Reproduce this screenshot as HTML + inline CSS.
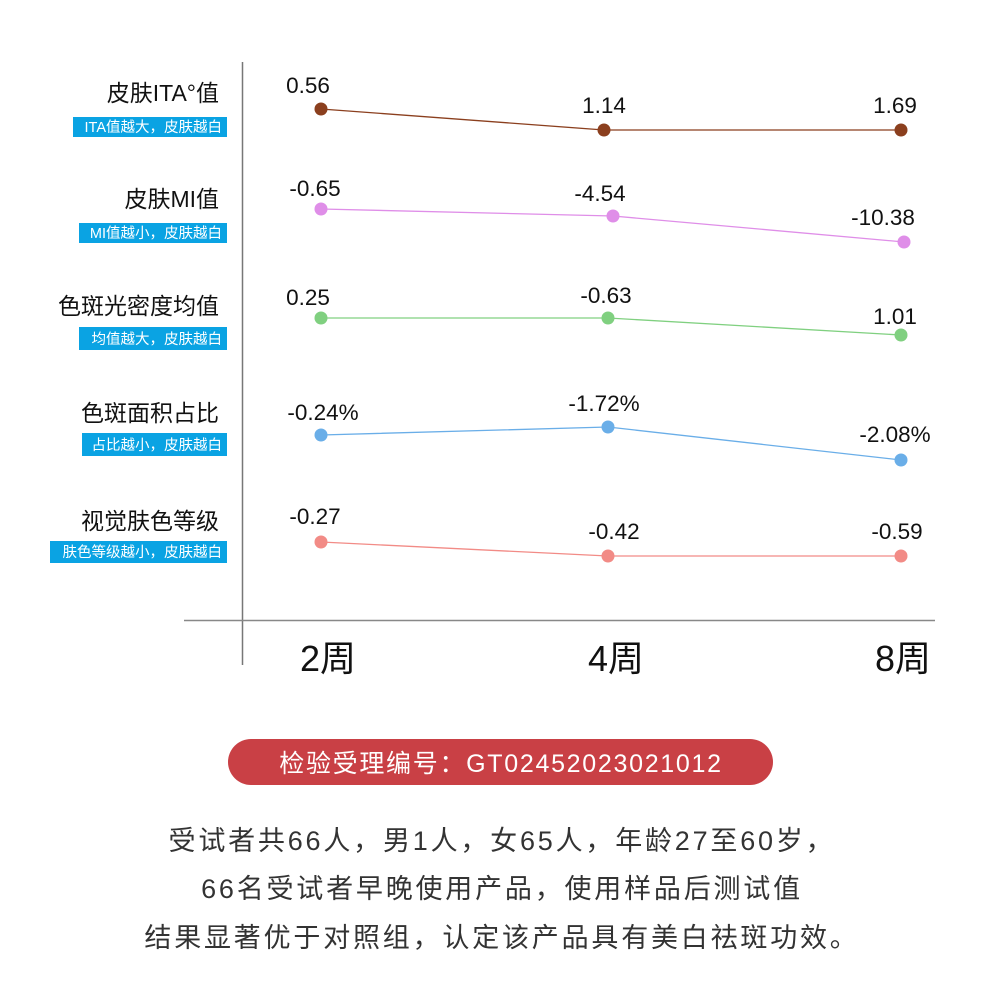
<!DOCTYPE html>
<html><head><meta charset="utf-8"><style>
html,body{margin:0;padding:0;background:#fff;width:1000px;height:1000px;overflow:hidden}
text{font-family:"Liberation Sans","Noto Sans CJK SC",sans-serif}
</style></head><body>
<svg width="1000" height="1000" viewBox="0 0 1000 1000" xmlns="http://www.w3.org/2000/svg">
<line x1="242.5" y1="62" x2="242.5" y2="665" stroke="#777" stroke-width="1.5"/>
<line x1="184" y1="620.5" x2="935" y2="620.5" stroke="#888" stroke-width="1.5"/>

<g font-size="23" fill="#111" text-anchor="end">
<text x="219" y="101">皮肤ITA°值</text>
<text x="219" y="207">皮肤MI值</text>
<text x="219" y="314">色斑光密度均值</text>
<text x="219" y="421">色斑面积占比</text>
<text x="219" y="529">视觉肤色等级</text>
</g>
<g fill="#0aa3e3">
<rect x="73" y="117" width="154" height="20"/>
<rect x="79" y="223" width="148" height="20"/>
<rect x="79" y="327" width="148" height="23"/>
<rect x="82" y="433" width="145" height="23"/>
<rect x="50" y="541" width="177" height="22"/>
</g>
<g font-size="14.5" fill="#fff" text-anchor="end">
<text x="222" y="132">ITA值越大，皮肤越白</text>
<text x="222" y="238">MI值越小，皮肤越白</text>
<text x="222" y="344">均值越大，皮肤越白</text>
<text x="222" y="450">占比越小，皮肤越白</text>
<text x="222" y="557">肤色等级越小，皮肤越白</text>
</g>

<g stroke-width="1.3" fill="none">
<polyline points="321,109 604,130 901,130" stroke="#8b3f1e"/>
<polyline points="321,209 613,216 904,242" stroke="#df8ee8"/>
<polyline points="321,318 608,318 901,335" stroke="#80d080"/>
<polyline points="321,435 608,427 901,460" stroke="#6aaee8"/>
<polyline points="321,542 608,556 901,556" stroke="#f28b86"/>
</g>
<g fill="#8b3f1e"><circle cx="321" cy="109" r="6.5"/><circle cx="604" cy="130" r="6.5"/><circle cx="901" cy="130" r="6.5"/></g>
<g fill="#df8ee8"><circle cx="321" cy="209" r="6.5"/><circle cx="613" cy="216" r="6.5"/><circle cx="904" cy="242" r="6.5"/></g>
<g fill="#80d080"><circle cx="321" cy="318" r="6.5"/><circle cx="608" cy="318" r="6.5"/><circle cx="901" cy="335" r="6.5"/></g>
<g fill="#6aaee8"><circle cx="321" cy="435" r="6.5"/><circle cx="608" cy="427" r="6.5"/><circle cx="901" cy="460" r="6.5"/></g>
<g fill="#f28b86"><circle cx="321" cy="542" r="6.5"/><circle cx="608" cy="556" r="6.5"/><circle cx="901" cy="556" r="6.5"/></g>

<g font-size="22.5" fill="#111" text-anchor="middle">
<text x="308" y="93">0.56</text><text x="604" y="113">1.14</text><text x="895" y="113">1.69</text>
<text x="315" y="196">-0.65</text><text x="600" y="201">-4.54</text><text x="883" y="225">-10.38</text>
<text x="308" y="305">0.25</text><text x="606" y="303">-0.63</text><text x="895" y="324">1.01</text>
<text x="323" y="420">-0.24%</text><text x="604" y="411">-1.72%</text><text x="895" y="442">-2.08%</text>
<text x="315" y="524">-0.27</text><text x="614" y="539">-0.42</text><text x="897" y="539">-0.59</text>
</g>

<g font-size="36" fill="#111" text-anchor="middle">
<text x="328" y="671">2周</text><text x="616" y="671">4周</text><text x="903" y="671">8周</text>
</g>

<rect x="228" y="739" width="545" height="46" rx="23" fill="#c94045"/>
<text x="501" y="772" font-size="25" fill="#fff" text-anchor="middle" letter-spacing="1.7">检验受理编号：GT02452023021012</text>

<g font-size="27" fill="#333" text-anchor="middle" letter-spacing="2.8">
<text x="502" y="850">受试者共66人，男1人，女65人，年龄27至60岁，</text>
<text x="502" y="898">66名受试者早晚使用产品，使用样品后测试值</text>
<text x="502" y="947">结果显著优于对照组，认定该产品具有美白祛斑功效。</text>
</g>
</svg>
</body></html>
